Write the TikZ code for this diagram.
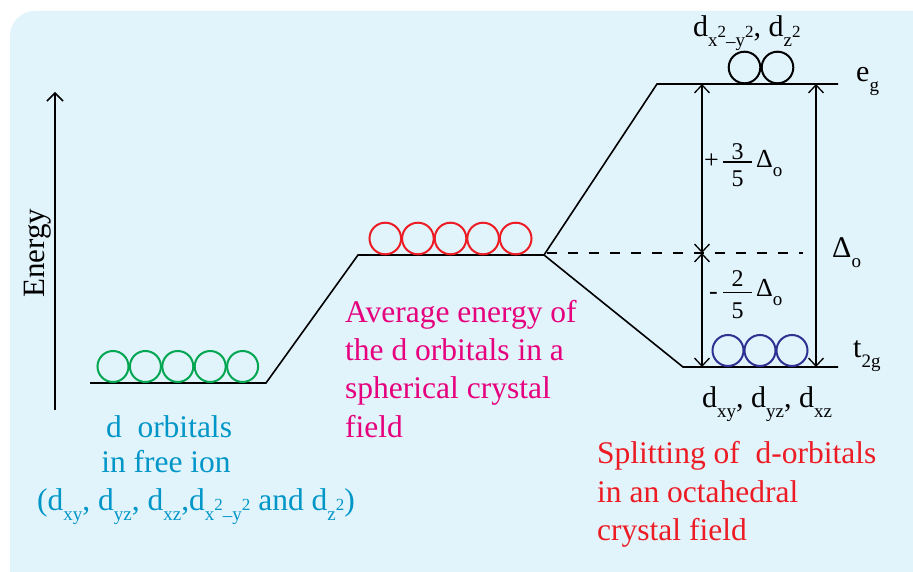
\documentclass[tikz,border=0pt]{standalone}
\usepackage{fontspec}
\setmainfont{Liberation Serif}
\usetikzlibrary{arrows.meta}
\definecolor{bgblue}{HTML}{E1F3FB}
\definecolor{magtext}{HTML}{E6007E}
\definecolor{redtext}{HTML}{ED1C24}
\definecolor{cyantext}{HTML}{0096C8}
\definecolor{orbgreen}{HTML}{00A650}
\definecolor{orbred}{HTML}{ED1C24}
\definecolor{orbblue}{HTML}{2E3192}
\newcommand\dsb[1]{\raisebox{-10pt}{\fontsize{19}{19}\selectfont #1}}
\newcommand\dsp[1]{\raisebox{9.5pt}{\fontsize{17}{17}\selectfont #1}}
\tikzset{
  level/.style={line width=1.6pt, black},
  orb/.style={line width=2pt},
  dimarrow/.style={line width=1.3pt, {Straight Barb[length=8pt,width=15pt]}-{Straight Barb[length=8pt,width=15pt]}},
  bigtxt/.style={inner sep=0pt, font=\fontsize{31.5}{36}\selectfont},
  lbltxt/.style={inner sep=0pt, font=\fontsize{30}{34}\selectfont},
  fractxt/.style={inner sep=0pt, font=\fontsize{26}{30}\selectfont},
  digtxt/.style={inner sep=0pt, font=\fontsize{24}{28}\selectfont},
  fracbar/.style={line width=1.2pt},
}
\begin{document}
\begin{tikzpicture}[x=1pt,y=-1pt]
\useasboundingbox (0,0) rectangle (913,572);
\begin{scope}
\clip (0,0) rectangle (913,572);
\fill[bgblue, rounded corners=25pt] (10,11) rectangle (950,610);
\end{scope}

% level coordinates
\coordinate (f1) at (90,383);
\coordinate (f2) at (266,383);
\coordinate (s1) at (358,255);
\coordinate (s2) at (544,255);
\coordinate (e1) at (657,84);
\coordinate (e2) at (838,84);
\coordinate (t1) at (683,367);
\coordinate (t2) at (838,367);
\coordinate (dashend) at (803,253);

\draw[level, line join=miter] (f1) -- (f2) -- (s1) -- (s2) -- (e1) -- (e2);
\draw[level, line join=miter] (s2) -- (t1) -- (t2);
\draw[line width=1.5pt, dash pattern=on 10pt off 11pt] (547,253) -- (dashend);

% orbitals
\foreach \i in {0,...,4} \draw[orb, orbgreen] (113+32.4*\i,366.5) circle[radius=15.5pt];
\foreach \i in {0,...,4} \draw[orb, orbred] (385.3+32.6*\i,238.5) circle[radius=15.8pt];
\foreach \i in {0,1} \draw[orb, black] (744.5+33*\i,67.5) circle[radius=15.8pt];
\foreach \i in {0,...,2} \draw[orb, orbblue] (728+32*\i,350.5) circle[radius=15.5pt];

% energy axis
\coordinate (ax0) at (55,410);
\coordinate (ax1) at (55,92);
\draw[line width=1.5pt, -{Straight Barb[length=8pt,width=16pt]}] (ax0) -- (ax1);
\node[bigtxt, rotate=90, anchor=base, font=\fontsize{31}{36}\selectfont] (energy) at (44,253) {Energy};

% dimension arrows
\coordinate (la) at (702,84);
\coordinate (lb) at (702,253);
\coordinate (lc) at (702,367);
\coordinate (ra) at (816,84);
\coordinate (rb) at (816,367);
\draw[dimarrow] (la) -- (lb);
\draw[dimarrow] (lb) -- (lc);
\draw[dimarrow] (ra) -- (rb);

% +3/5 Delta_o
\node[fractxt, anchor=base west] (plus) at (704,168.5) {+};
\node[digtxt, anchor=base] (num3) at (737.5,159.5) {3};
\node[digtxt, anchor=base] (den5a) at (737.5,187) {5};
\coordinate (fb1a) at (723,162);
\coordinate (fb1b) at (752,162);
\draw[fracbar] (fb1a) -- (fb1b);
\node[fractxt, anchor=base west] (delta1) at (756,168) {Δ\raisebox{-9pt}{\fontsize{19}{19}\selectfont o}};

% -2/5 Delta_o
\node[fractxt, anchor=base west] (minus) at (709,299) {-};
\node[digtxt, anchor=base] (num2) at (737.5,286.5) {2};
\node[digtxt, anchor=base] (den5b) at (737.5,318) {5};
\coordinate (fb2a) at (723,292.5);
\coordinate (fb2b) at (752,292.5);
\draw[fracbar] (fb2a) -- (fb2b);
\node[fractxt, anchor=base west] (delta2) at (756,296) {Δ\raisebox{-9pt}{\fontsize{19}{19}\selectfont o}};

% right side labels
\node[lbltxt, anchor=base west] (delta) at (832,258) {Δ\raisebox{-10pt}{\fontsize{19}{19}\selectfont o}};
\node[lbltxt, anchor=base west] (eg) at (856,82) {e\dsb{g}};
\node[lbltxt, anchor=base west] (t2g) at (853,357) {t\dsb{2g}};
\node[lbltxt, anchor=base west] (eglbl) at (693,37) {d\dsb{x\dsp{2}\raisebox{-1pt}{–}y\dsp{2}}, d\dsb{z\dsp{2}}};
\node[lbltxt, anchor=base west] (t2glbl) at (702,407) {d\dsb{xy}, d\dsb{yz}, d\dsb{xz}};

% free ion text
\node[bigtxt, anchor=base, text=cyantext] (free1) at (169,437) {d\ \ orbitals};
\node[bigtxt, anchor=base, text=cyantext] (free2) at (166,472) {in free ion};
\node[bigtxt, anchor=base west, text=cyantext] (free3) at (37,510) {(d\dsb{xy}, d\dsb{yz}, d\dsb{xz},d\dsb{x\dsp{2}\raisebox{-1pt}{–}y\dsp{2}} and d\dsb{z\dsp{2}})};

% spherical field text
\node[bigtxt, anchor=base west, text=magtext] (avg1) at (345,322) {Average energy of};
\node[bigtxt, anchor=base west, text=magtext] (avg2) at (345,360) {the d orbitals in a};
\node[bigtxt, anchor=base west, text=magtext] (avg3) at (345,398.5) {spherical crystal};
\node[bigtxt, anchor=base west, text=magtext] (avg4) at (345,437) {field};

% octahedral text
\node[bigtxt, anchor=base west, text=redtext] (oct1) at (597,463) {Splitting of \ d-orbitals};
\node[bigtxt, anchor=base west, text=redtext] (oct2) at (597,502) {in an octahedral};
\node[bigtxt, anchor=base west, text=redtext] (oct3) at (597,540) {crystal field};
\end{tikzpicture}
\end{document}
